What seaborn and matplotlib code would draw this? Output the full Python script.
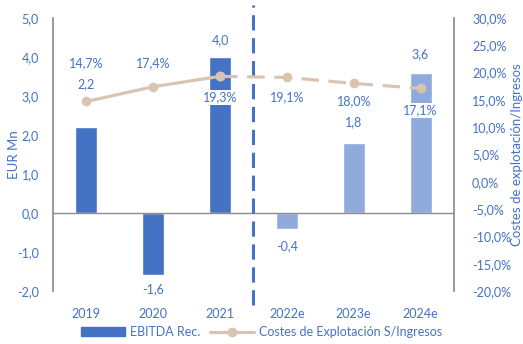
import seaborn as sns
import numpy as np
import matplotlib.pyplot as plt
from matplotlib.lines import Line2D
from matplotlib.patches import Patch

# datos
years = ["2019", "2020", "2021", "2022e", "2023e", "2024e"]
ebitda = [2.2, -1.6, 4.0, -0.4, 1.8, 3.6]
costes = [14.7, 17.4, 19.3, 19.1, 18.0, 17.1]
ebitda_labels = ["2,2", "-1,6", "4,0", "-0,4", "1,8", "3,6"]
costes_labels = ["14,7%", "17,4%", "19,3%", "19,1%", "18,0%", "17,1%"]
n_hist = 3  # años reales, el resto son estimaciones

blue = "#4472C4"
light_blue = "#8FAADC"
beige = "#D9C4B1"
grey = "#8C8C8C"

sns.set_theme(style="white")
plt.rcParams['font.family'] = ['Lato', 'DejaVu Sans']
plt.rcParams['font.size'] = 9

fig = plt.figure(figsize=(5.23, 3.44), dpi=100)
ax = fig.add_axes([0.1013, 0.154, 0.7667, 0.794])

colors = [blue] * n_hist + [light_blue] * (len(years) - n_hist)
sns.barplot(x=years, y=ebitda, hue=years, palette=colors, legend=False,
            width=0.33, saturation=1, ax=ax)
ax.set_ylim(-2, 5)
ax.set_xlim(-0.5, 5.5)
ax.set_yticks(np.arange(-2, 5.01, 1))
ax.set_yticklabels([f"{v:.1f}".replace(".", ",") for v in np.arange(-2, 5.01, 1)])
ax.axhline(0, color=grey, lw=1, zorder=1)

ax2 = ax.twinx()
ax2.set_position(ax.get_position())
x = np.arange(len(years))
sns.lineplot(x=x[:n_hist], y=costes[:n_hist], color=beige, lw=2.3,
             marker="o", markersize=7, markeredgewidth=0, ax=ax2)
sns.lineplot(x=x[n_hist - 1:], y=costes[n_hist - 1:], color=beige, lw=2.3,
             marker="o", markersize=7, markeredgewidth=0, ax=ax2,
             linestyle=(0, (5.5, 3)))
ax2.set_ylim(-20, 30)
ax2.set_yticks(np.arange(-20, 30.1, 5))
ax2.set_yticklabels([f"{v:.1f}%".replace(".", ",") for v in np.arange(-20, 30.1, 5)])

# linea vertical real / estimado
ax.axvline(2.5, ymin=-0.051, ymax=1.048, color=blue, lw=2.2,
           linestyle=(0, (5, 2.5)), clip_on=False, zorder=5)

# etiquetas
bar_off = [-43, 14, -17, 18, -21, -18]
for i, (v, lab) in enumerate(zip(ebitda, ebitda_labels)):
    ax2.annotate(lab, xy=(i, (v + 2) / 7 * 50 - 20), xytext=(0, -bar_off[i]),
                 textcoords="offset pixels", ha="center", va="center",
                 color=blue, fontsize=9)
line_off = [-38, -24, 21, 20, 18, 22]
for i, (v, lab) in enumerate(zip(costes, costes_labels)):
    ax2.annotate(lab, xy=(i, v), xytext=(0, -line_off[i]),
                 textcoords="offset pixels", ha="center", va="center",
                 color=blue, fontsize=9,
                 bbox=dict(boxstyle="square,pad=0.1", fc="white", ec="none"))

for a in (ax, ax2):
    for s in a.spines.values():
        s.set_visible(False)
    a.tick_params(axis="both", length=0, colors=blue, labelsize=9)
    a.grid(False)
ax.spines["left"].set_visible(True)
ax.spines["left"].set_color(grey)
ax2.spines["right"].set_visible(True)
ax2.spines["right"].set_color(grey)
ax.tick_params(axis="y", pad=10)
ax2.tick_params(axis="y", pad=13)
ax.tick_params(axis="x", pad=12)

ax.set_ylabel("EUR Mn", color=blue, fontsize=9.5, labelpad=-2)
ax2.set_ylabel("Costes de explotación/Ingresos", color=blue, fontsize=9.5, labelpad=0)

handles = [Patch(color=blue, label="EBITDA Rec."),
           Line2D([0], [0], color=beige, lw=2.3, marker="o", markersize=6,
                  label="Costes de Explotación S/Ingresos")]
leg = fig.legend(handles=handles, loc="center", bbox_to_anchor=(0.5, 0.035),
                 ncol=2, frameon=False, fontsize=9, handlelength=3.5,
                 columnspacing=0.8, handletextpad=0.4)
for t in leg.get_texts():
    t.set_color(blue)

fig.savefig("out.png", dpi=100)
